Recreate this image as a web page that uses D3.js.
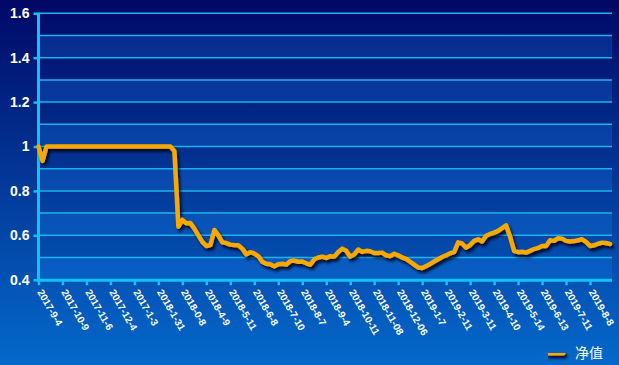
<!DOCTYPE html>
<html>
<head>
<meta charset="utf-8">
<script src="https://cdn.jsdelivr.net/npm/d3@7"></script>
<style>
  body { margin: 0; overflow: hidden; }
  svg { display: block; }
</style>
</head>
<body>
<script>
var width = 619,
    height = 365;

// category labels, one every 6 points along the series
var tickLabels = ["2017-9-4", "2017-10-9", "2017-11-6", "2017-12-4", "2017-1-3", "2018-1-31",
    "2018-0-8", "2018-4-9", "2018-5-11", "2018-6-8", "2018-7-10", "2018-8-7",
    "2018-9-4", "2018-10-11", "2018-11-08", "2018-12-06", "2019-1-7", "2019-2-11",
    "2019-3-11", "2019-4-10", "2019-5-14", "2019-6-13", "2019-7-11", "2019-8-8"];
var pointsPerTick = 6;

// 净值 series
var nav = [
    1.0, 0.935, 1.0, 1.0, 1.0, 1.0, 1.0, 1.0, 1.0, 1.0,
    1.0, 1.0, 1.0, 1.0, 1.0, 1.0, 1.0, 1.0, 1.0, 1.0,
    1.0, 1.0, 1.0, 1.0, 1.0, 1.0, 1.0, 1.0, 1.0, 1.0,
    1.0, 1.0, 1.0, 1.0, 0.98, 0.639, 0.669, 0.654, 0.655, 0.630,
    0.600, 0.570, 0.552, 0.556, 0.624, 0.600, 0.568, 0.565, 0.558, 0.556,
    0.555, 0.540, 0.514, 0.524, 0.518, 0.506, 0.481, 0.472, 0.470, 0.460,
    0.470, 0.472, 0.468, 0.484, 0.486, 0.481, 0.482, 0.474, 0.468, 0.492,
    0.500, 0.504, 0.498, 0.506, 0.504, 0.525, 0.540, 0.530, 0.504, 0.514,
    0.536, 0.525, 0.530, 0.528, 0.520, 0.520, 0.522, 0.510, 0.506, 0.517,
    0.510, 0.500, 0.494, 0.481, 0.468, 0.455, 0.453, 0.461, 0.471, 0.482,
    0.492, 0.502, 0.510, 0.519, 0.524, 0.568, 0.563, 0.544, 0.556, 0.575,
    0.582, 0.572, 0.598, 0.606, 0.612, 0.620, 0.632, 0.645, 0.594, 0.530,
    0.524, 0.526, 0.522, 0.530, 0.538, 0.543, 0.552, 0.552, 0.578, 0.575,
    0.587, 0.585, 0.575, 0.572, 0.574, 0.578, 0.582, 0.570, 0.552, 0.555,
    0.562, 0.567, 0.565, 0.561
];

var yTicks = [0.4, 0.6, 0.8, 1.0, 1.2, 1.4, 1.6];
var gridValues = [0.5, 0.6, 0.7, 0.8, 0.9, 1.0, 1.1, 1.2, 1.3, 1.4, 1.5, 1.6];
var bandStarts = [0.4, 0.6, 0.8, 1.0, 1.2, 1.4];

var plotL = 38.5, plotR = 612, plotT = 13.3, plotB = 279.7;

var svg = d3.select("body").append("svg")
    .attr("width", width)
    .attr("height", height)

var defs = svg.append("defs");

var grad = defs.append("linearGradient")
    .attr("id", "bg")
    .attr("x1", 0).attr("y1", 0).attr("x2", 0).attr("y2", 1);
grad.append("stop").attr("offset", "0%").attr("stop-color", "#010866");
grad.append("stop").attr("offset", "100%").attr("stop-color", "#0469cb");

// drop shadow, region in user space so the flat legend line gets it too
var shadow = defs.append("filter")
    .attr("id", "shadow")
    .attr("filterUnits", "userSpaceOnUse")
    .attr("x", 0).attr("y", 0)
    .attr("width", width).attr("height", height);
shadow.append("feDropShadow")
    .attr("dx", 2).attr("dy", 3)
    .attr("stdDeviation", 1.6)
    .attr("flood-color", "#000018")
    .attr("flood-opacity", 0.85);

svg.append("rect")
    .attr("width", width)
    .attr("height", height)
    .attr("fill", "url(#bg)");

var x = d3.scaleLinear()
    .domain([0, nav.length - 1 + 0.5])
    .range([plotL, plotR]);

var y = d3.scaleLinear()
    .domain([0.4, 1.6])
    .range([plotB, plotT]);

/* lighter alternating bands */
svg.selectAll("rect.band")
    .data(bandStarts)
    .enter()
    .append("rect")
    .attr("class", "band")
    .attr("x", plotL)
    .attr("width", plotR - plotL)
    .attr("y", function (d) { return y(d + 0.1) })
    .attr("height", function (d) { return y(d) - y(d + 0.1) })
    .attr("fill", "#1e8cff")
    .attr("fill-opacity", 0.22);

/* grid lines every 0.1 */
svg.selectAll("line.grid")
    .data(gridValues)
    .enter()
    .append("line")
    .attr("class", "grid")
    .attr("x1", plotL)
    .attr("x2", plotR)
    .attr("y1", function (d) { return y(d) })
    .attr("y2", function (d) { return y(d) })
    .attr("stroke", "#19b4ee")
    .attr("stroke-width", 1.5);

/* y axis */
var yAxis = d3.axisLeft(y)
    .tickValues(yTicks)
    .tickSize(5)
    .tickPadding(4)
    .tickFormat(function (d) { return String(+d.toFixed(1)) });

var gy = svg.append("g")
    .attr("transform", "translate(" + plotL + ",0)")
    .call(yAxis);
gy.select(".domain").remove();
gy.append("line")
    .attr("x1", 0).attr("x2", 0)
    .attr("y1", plotT - 0.5).attr("y2", plotB + 1.5)
    .attr("stroke", "#12c2f4")
    .attr("stroke-width", 3);
gy.selectAll(".tick line")
    .attr("stroke", "#12c2f4")
    .attr("stroke-width", 2.5);
gy.selectAll(".tick text")
    .attr("fill", "#ffffff")
    .attr("font-family", "'Liberation Sans', Arial, sans-serif")
    .attr("font-weight", "bold")
    .attr("font-size", 14);

/* x axis */
var xAxis = d3.axisBottom(x)
    .tickValues(d3.range(0, tickLabels.length).map(function (i) { return i * pointsPerTick }))
    .tickSize(5)
    .tickFormat(function (d) { return tickLabels[d / pointsPerTick] });

var gx = svg.append("g")
    .attr("transform", "translate(0," + (plotB + 0.5) + ")")
    .call(xAxis);
gx.select(".domain").remove();
gx.append("line")
    .attr("x1", plotL - 1.5).attr("x2", plotR)
    .attr("y1", 0).attr("y2", 0)
    .attr("stroke", "#12c2f4")
    .attr("stroke-width", 3);
gx.selectAll(".tick line")
    .attr("stroke", "#12c2f4")
    .attr("stroke-width", 2.5);
gx.selectAll(".tick text")
    .attr("fill", "#ffffff")
    .attr("font-family", "'Liberation Sans', Arial, sans-serif")
    .attr("font-weight", "bold")
    .attr("font-size", 10)
    .attr("text-anchor", "start")
    .attr("x", 0)
    .attr("y", 0)
    .attr("dy", "0.35em")
    .attr("transform", "translate(1,10) rotate(60)");

/* the 净值 line */
var line = d3.line()
    .x(function (d, i) { return x(i) })
    .y(function (d) { return y(d) });

svg.append("path")
    .datum(nav)
    .attr("d", line)
    .attr("fill", "none")
    .attr("stroke", "#f7a900")
    .attr("stroke-width", 4.5)
    .attr("stroke-linejoin", "round")
    .attr("stroke-linecap", "round")
    .attr("filter", "url(#shadow)");

/* legend */
var legend = svg.append("g")
    .attr("transform", "translate(548,353)");
legend.append("line")
    .attr("x1", 0).attr("x2", 15)
    .attr("y1", 0).attr("y2", 0)
    .attr("stroke", "#f7a900")
    .attr("stroke-width", 5)
    .attr("stroke-linecap", "round")
    .attr("filter", "url(#shadow)");
legend.append("text")
    .attr("x", 27)
    .attr("y", 5)
    .attr("fill", "#ffffff")
    .attr("font-family", "'Noto Sans CJK SC', sans-serif")
    .attr("font-size", 14)
    .text("净值");
</script>
</body>
</html>
